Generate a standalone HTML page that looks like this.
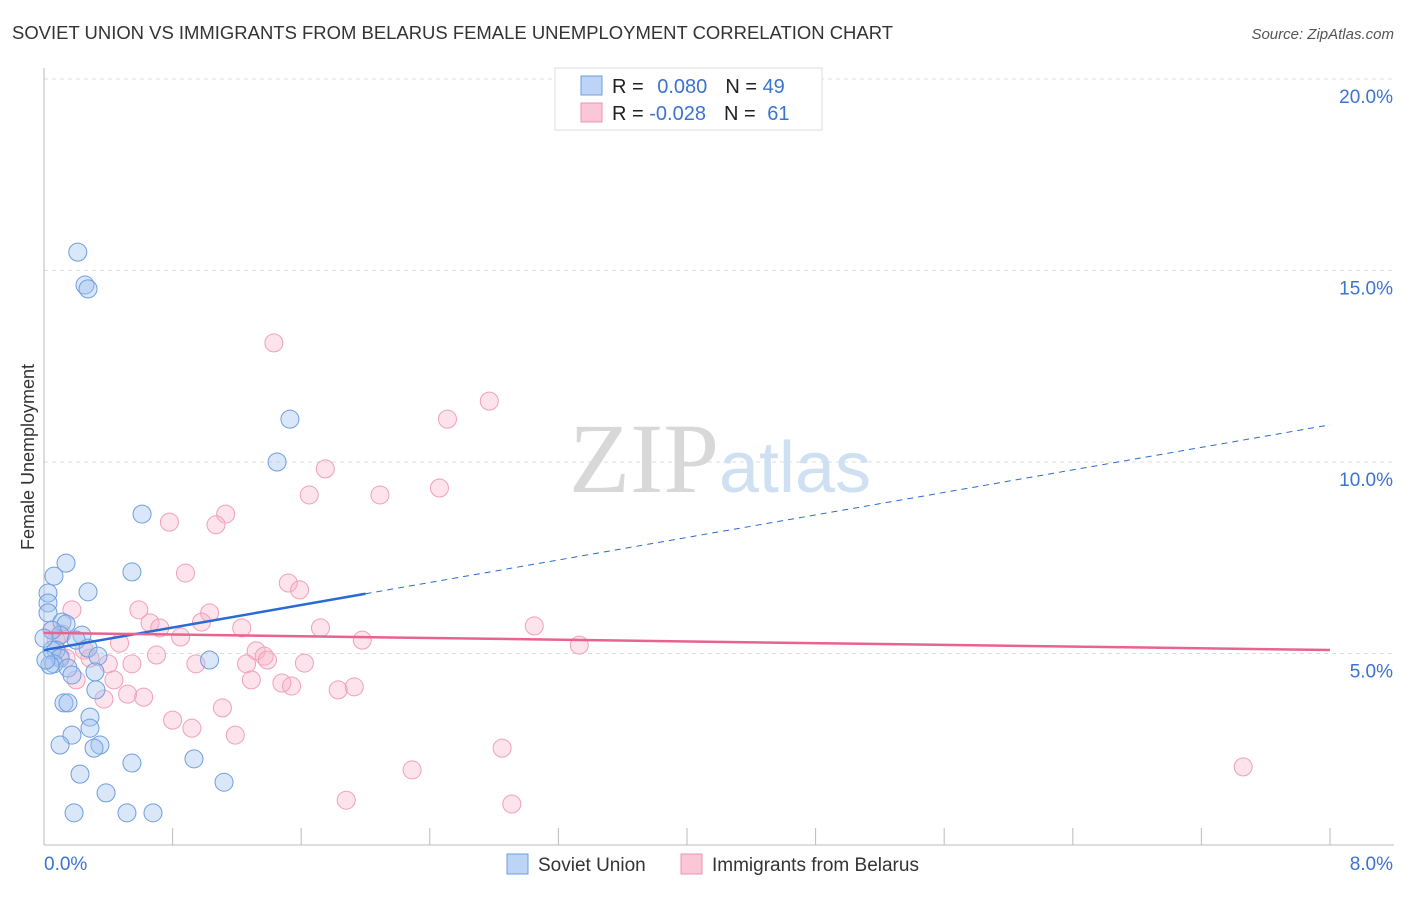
<!DOCTYPE html>
<html><head><meta charset="utf-8"><style>
body{margin:0;background:#fff;font-family:"Liberation Sans",sans-serif;}
svg text{font-family:"Liberation Sans",sans-serif;}
</style></head><body>
<svg width="1406" height="892" xmlns="http://www.w3.org/2000/svg">
<text x="12" y="39" font-size="18" fill="#333" textLength="881" lengthAdjust="spacingAndGlyphs">SOVIET UNION VS IMMIGRANTS FROM BELARUS FEMALE UNEMPLOYMENT CORRELATION CHART</text>
<text x="1394" y="39" font-size="15" fill="#555" text-anchor="end" font-style="italic">Source: ZipAtlas.com</text>
<text x="34" y="457" font-size="18" fill="#333" text-anchor="middle" transform="rotate(-90 34 457)">Female Unemployment</text>
<g id="grid"></g>
<text x="720" y="492" font-size="100" fill="#ddd" text-anchor="middle" font-family="Liberation Serif"><tspan fill="#d8d8d8" font-family="Liberation Serif">ZIP</tspan><tspan fill="#cfe0f3" font-family="Liberation Sans" font-size="72">atlas</tspan></text>
<g id="pts"></g>
<g id="lines"></g>
<g>
<rect x="555" y="68" width="267" height="62" fill="#fff" stroke="#ddd"/>
<rect x="581" y="76" width="21" height="19" fill="#bcd4f5" stroke="#6e9ee0"/>
<rect x="581" y="103" width="21" height="19" fill="#fbc6d6" stroke="#ee93ae"/>
<text x="612" y="93" font-size="20" fill="#222">R = <tspan fill="#3b73d1" dx="8">0.080</tspan><tspan dx="18" fill="#222">N = </tspan><tspan fill="#3b73d1">49</tspan></text>
<text x="612" y="120" font-size="20" fill="#222">R = <tspan fill="#3b73d1">-0.028</tspan><tspan dx="18" fill="#222">N = </tspan><tspan fill="#3b73d1" dx="6">61</tspan></text>
</g>
<g>
<rect x="507" y="854" width="21" height="20" fill="#bcd4f5" stroke="#6e9ee0"/>
<text x="538" y="871" font-size="19" fill="#333">Soviet Union</text>
<rect x="681" y="854" width="21" height="20" fill="#fbc6d6" stroke="#ee93ae"/>
<text x="712" y="871" font-size="19" fill="#333">Immigrants from Belarus</text>
</g>
</svg>
<script>
const blueX=[0.21,0.255,0.274,1.53,1.45,0.61,0.137,0.062,0.547,0.274,0.025,0.025,0.025,0.112,0.137,0.10,0.236,0.2,0.075,0.05,0.274,0.336,0.10,0.062,0.037,0.149,0.174,0.317,1.03,0.323,0.124,0.149,0.286,0.286,0.174,0.10,0.348,0.311,0.547,0.933,0.224,0.386,1.12,0.187,0.516,0.678,0.05,0.0,0.012];
const blueY=[15.48,14.62,14.52,11.12,10.0,8.64,7.36,7.02,7.13,6.61,6.58,6.32,6.06,5.82,5.77,5.48,5.48,5.35,5.09,5.09,5.14,4.93,4.88,4.73,4.70,4.62,4.44,4.52,4.83,4.05,3.71,3.71,3.34,3.05,2.87,2.61,2.61,2.53,2.14,2.25,1.85,1.36,1.64,0.84,0.84,0.84,5.61,5.40,4.83];
const pinkX=[1.43,2.77,2.51,1.75,2.46,1.65,2.09,1.13,0.78,1.07,0.88,1.52,1.59,0.174,0.59,1.03,0.66,0.98,0.72,1.23,1.72,3.05,0.85,0.05,0.112,0.47,1.98,3.33,0.25,0.70,1.32,0.286,1.37,1.39,0.137,0.547,0.40,0.945,1.26,1.62,0.2,0.435,1.29,1.48,1.54,1.83,1.93,0.373,0.52,0.62,1.11,0.80,0.92,1.19,2.85,2.29,7.46,1.88,2.91,0.075,0.10];
const pinkY=[13.11,11.59,11.12,9.82,9.32,9.14,9.14,8.64,8.43,8.36,7.10,6.84,6.66,6.14,6.14,6.06,5.80,5.82,5.67,5.67,5.67,5.72,5.43,5.61,5.51,5.27,5.35,5.22,5.09,4.96,5.07,4.88,4.93,4.83,4.88,4.73,4.73,4.73,4.73,4.75,4.31,4.31,4.31,4.23,4.15,4.05,4.13,3.81,3.94,3.86,3.58,3.26,3.05,2.87,2.53,1.96,2.04,1.17,1.07,5.35,4.93];
const yTicks=[5,10,15,20];
const yTickLabels=["5.0%","10.0%","15.0%","20.0%"];
const xTicks=[0.8,1.6,2.4,3.2,4.0,4.8,5.6,6.4,7.2,8.0];
const blueTrend=[5.09,10.97];
const pinkTrend=[5.54,5.09];
const blueSolidEnd=2.0;
const NS="http://www.w3.org/2000/svg";
const X=v=>44+v/8*1286, Y=v=>845-v*38.3;
function mk(tag,attrs,parent){const e=document.createElementNS(NS,tag);for(const k in attrs)e.setAttribute(k,attrs[k]);parent.appendChild(e);return e;}
const grid=document.getElementById('grid');
yTicks.forEach((t,i)=>{
 const l=mk('line',{x1:44,x2:1394,y1:Y(t),y2:Y(t),stroke:'#ddd','stroke-dasharray':'4 4'},grid);
 
 
 const tx=mk('text',{x:1393,y:Y(t)+24,'font-size':19,fill:'#3b73d1','text-anchor':'end'},grid);
 tx.textContent=yTickLabels[i];
 
 
});
const ax=mk('line',{x1:44,x2:44,y1:68,y2:845,stroke:'#bbb'},grid);


const bx=mk('line',{x1:44,x2:1394,y1:845,y2:845,stroke:'#bbb'},grid);


xTicks.forEach(t=>{
 const l=mk('line',{x1:X(t),x2:X(t),y1:828,y2:845,stroke:'#bbb'},grid);
 
 
});
const x0=mk('text',{x:44,y:870,'font-size':19,fill:'#3b73d1'},grid);x0.textContent='0.0%';


const x8=mk('text',{x:1393,y:870,'font-size':19,fill:'#3b73d1','text-anchor':'end'},grid);x8.textContent='8.0%';


const pts=document.getElementById('pts');
pinkX.forEach((v,i)=>{
 const c=mk('circle',{cx:X(v),cy:Y(pinkY[i]),r:9,fill:'rgba(248,175,198,0.35)',stroke:'#f0a0b9','stroke-width':1},pts);
 
 
});
blueX.forEach((v,i)=>{
 const c=mk('circle',{cx:X(v),cy:Y(blueY[i]),r:9,fill:'rgba(160,196,240,0.4)',stroke:'#6f9ee0','stroke-width':1},pts);
 
 
});
const lines=document.getElementById('lines');
const bAt=x=>blueTrend[0]+(blueTrend[1]-blueTrend[0])*x/8;
let l1=mk('line',{x1:X(0),y1:Y(bAt(0)),x2:X(blueSolidEnd),y2:Y(bAt(blueSolidEnd)),stroke:'#2a6ad4','stroke-width':2.5},lines);


let l2=mk('line',{x1:X(blueSolidEnd),y1:Y(bAt(blueSolidEnd)),x2:X(8),y2:Y(bAt(8)),stroke:'#2a6ad4','stroke-width':1,'stroke-dasharray':'6 5'},lines);


let l3=mk('line',{x1:X(0),y1:Y(pinkTrend[0]),x2:X(8),y2:Y(pinkTrend[1]),stroke:'#e8638f','stroke-width':2.5},lines);


</script>
</body></html>
